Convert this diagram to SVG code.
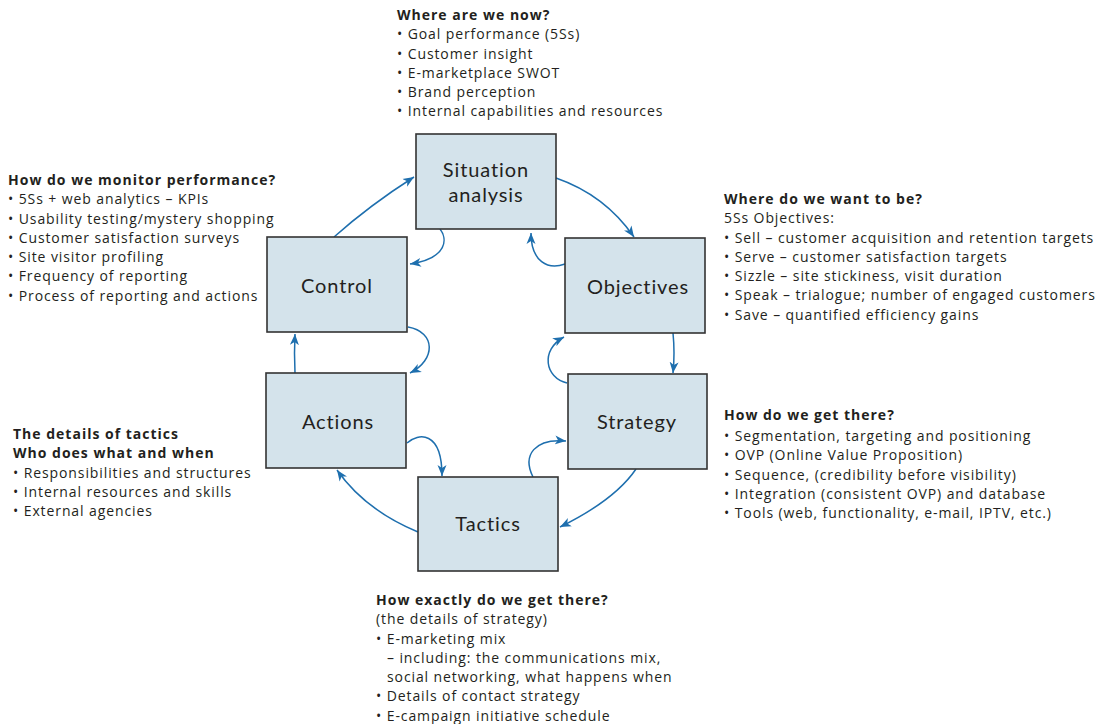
<svg xmlns="http://www.w3.org/2000/svg" width="1114" height="724" viewBox="0 0 1114 724">
<style>
.box{fill:#d4e3eb;stroke:#333;stroke-width:1.6}
.nl{font-family:Lato,"Open Sans",sans-serif;font-size:20px;letter-spacing:0.9px;fill:#231f20;text-anchor:middle}
.t{font-family:"Open Sans",Lato,sans-serif;font-size:14px;letter-spacing:0.9px;fill:#231f20}
.h{font-weight:bold;letter-spacing:1px}
.c{fill:none;stroke:#1e6fae;stroke-width:1.5;marker-end:url(#ah)}
</style>
<defs>
<marker id="ah" viewBox="0 -5 12 10" refX="11" refY="0" markerWidth="12" markerHeight="10" markerUnits="userSpaceOnUse" orient="auto">
<path d="M0,-4.5 L11,0 L0,4.5 L3,0 z" fill="#1e6fae"/>
</marker>
</defs>
<rect width="1114" height="724" fill="#fff"/>
<g id="connectors">
<path class="c" d="M334,237 Q370,205 414,177"/>
<path class="c" d="M556,178 Q605,195 634,237"/>
<path class="c" d="M440,229 C447,238 449,258 410,264"/>
<path class="c" d="M565,264 C548,270 531,262 531,233"/>
<path class="c" d="M673,333 Q675,353 673,373"/>
<path class="c" d="M567,383 C545,378 540,350 564,337"/>
<path class="c" d="M408,327 C436,332 436,360 410,373"/>
<path class="c" d="M295,373 Q294,353 295,334"/>
<path class="c" d="M407,443 C418,433 442,430 442,476"/>
<path class="c" d="M418,532 Q365,510 337,470"/>
<path class="c" d="M636,469 Q615,500 560,527"/>
<path class="c" d="M533,477 C522,455 535,438 566,441"/>
</g>
<g id="situation">
<rect class="box" x="416" y="134" width="140" height="95"/>
<text class="nl"><tspan x="486" y="177">Situation</tspan><tspan x="486" y="201.5">analysis</tspan></text>
</g>
<g id="objectives">
<rect class="box" x="565" y="238" width="140" height="95"/>
<text class="nl" x="638" y="294">Objectives</text>
</g>
<g id="strategy">
<rect class="box" x="568" y="374" width="139" height="95"/>
<text class="nl" x="637" y="429">Strategy</text>
</g>
<g id="tactics">
<rect class="box" x="418" y="477" width="140" height="94"/>
<text class="nl" x="488" y="531">Tactics</text>
</g>
<g id="actions">
<rect class="box" x="266" y="373" width="140" height="95"/>
<text class="nl" x="338" y="429">Actions</text>
</g>
<g id="control">
<rect class="box" x="267" y="237" width="140" height="95"/>
<text class="nl" x="337" y="293">Control</text>
</g>
<g id="text-situation">
<text class="t h" x="397" y="20">Where are we now?</text>
<text class="t" x="397" y="39.25">• Goal performance (5Ss)</text>
<text class="t" x="397" y="58.5">• Customer insight</text>
<text class="t" x="397" y="77.75">• E-marketplace SWOT</text>
<text class="t" x="397" y="97">• Brand perception</text>
<text class="t" x="397" y="116.25">• Internal capabilities and resources</text>
</g>
<g id="text-control">
<text class="t h" x="8" y="185">How do we monitor performance?</text>
<text class="t" x="8" y="204.25">• 5Ss + web analytics – KPIs</text>
<text class="t" x="8" y="223.5">• Usability testing/mystery shopping</text>
<text class="t" x="8" y="242.75">• Customer satisfaction surveys</text>
<text class="t" x="8" y="262">• Site visitor profiling</text>
<text class="t" x="8" y="281.25">• Frequency of reporting</text>
<text class="t" x="8" y="300.5">• Process of reporting and actions</text>
</g>
<g id="text-objectives">
<text class="t h" x="724" y="204">Where do we want to be?</text>
<text class="t" x="724" y="223.25">5Ss Objectives:</text>
<text class="t" x="724" y="242.5">• Sell – customer acquisition and retention targets</text>
<text class="t" x="724" y="261.75">• Serve – customer satisfaction targets</text>
<text class="t" x="724" y="281">• Sizzle – site stickiness, visit duration</text>
<text class="t" x="724" y="300.25">• Speak – trialogue; number of engaged customers</text>
<text class="t" x="724" y="319.5">• Save – quantified efficiency gains</text>
</g>
<g id="text-actions">
<text class="t h" x="13" y="439">The details of tactics</text>
<text class="t h" x="13" y="458.25">Who does what and when</text>
<text class="t" x="13" y="477.5">• Responsibilities and structures</text>
<text class="t" x="13" y="496.75">• Internal resources and skills</text>
<text class="t" x="13" y="516">• External agencies</text>
</g>
<g id="text-strategy">
<text class="t h" x="724" y="420">How do we get there?</text>
<text class="t" x="724" y="441">• Segmentation, targeting and positioning</text>
<text class="t" x="724" y="460.25">• OVP (Online Value Proposition)</text>
<text class="t" x="724" y="479.5">• Sequence, (credibility before visibility)</text>
<text class="t" x="724" y="498.75">• Integration (consistent OVP) and database</text>
<text class="t" x="724" y="518">• Tools (web, functionality, e-mail, IPTV, etc.)</text>
</g>
<g id="text-tactics">
<text class="t h" x="376" y="605">How exactly do we get there?</text>
<text class="t" x="376" y="624.25">(the details of strategy)</text>
<text class="t" x="376" y="643.5">• E-marketing mix</text>
<text class="t" x="387" y="662.75">– including: the communications mix,</text>
<text class="t" x="387" y="682">social networking, what happens when</text>
<text class="t" x="376" y="701.25">• Details of contact strategy</text>
<text class="t" x="376" y="720.5">• E-campaign initiative schedule</text>
</g>
</svg>
